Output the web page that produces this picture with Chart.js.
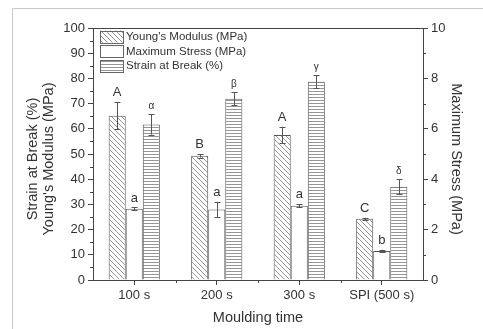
<!DOCTYPE html>
<html><head><meta charset="utf-8">
<script src="https://cdn.jsdelivr.net/npm/chart.js@4.4.1/dist/chart.umd.min.js"></script>
<style>html,body{margin:0;padding:0;background:#fff;}#wrap{width:483px;height:329px;position:relative;}</style>
</head><body><div id="wrap"><canvas id="c" width="483" height="329"></canvas></div>
<script>
const categories = ["100 s", "200 s", "300 s", "SPI (500 s)"];
const youngs = [65.2, 49.3, 57.5, 24.3];
const youngsErr = [5.3, 0.7, 3.3, 0.4];
const youngsLetters = ["A", "B", "A", "C"];
const maxStress = [2.83, 2.8, 2.95, 1.15];
const maxStressErr = [0.05, 0.3, 0.05, 0.05];
const maxStressLetters = ["a", "a", "a", "b"];
const strain = [61.7, 71.9, 78.7, 37.0];
const strainErr = [4.0, 2.6, 2.5, 3.0];
const strainLetters = ["\u03b1", "\u03b2", "\u03b3", "\u03b4"];
const leftTicks = [0,10,20,30,40,50,60,70,80,90,100];
const rightTicks = [0,2,4,6,8,10];

const FONT = "'Liberation Sans', Arial, sans-serif";
const INK = '#444';

function makePattern(kind){
  const s = kind === 'diag' ? 5 : 3;
  const pc = document.createElement('canvas');
  pc.width = s; pc.height = s;
  const p = pc.getContext('2d');
  p.fillStyle = '#fff'; p.fillRect(0,0,s,s);
  p.strokeStyle = '#8a8a8a'; p.lineWidth = 0.9;
  p.beginPath();
  if (kind === 'diag') {
    p.moveTo(0,0); p.lineTo(s,s);
    p.moveTo(-s,0); p.lineTo(0,s);
    p.moveTo(s,0); p.lineTo(2*s,s);
    p.moveTo(0,-s); p.lineTo(s*2, s);
  } else {
    p.moveTo(0,1.5); p.lineTo(s,1.5);
  }
  p.stroke();
  return document.getElementById('c').getContext('2d').createPattern(pc,'repeat');
}
const diagPat = makePattern('diag');
const horPat = makePattern('hor');

const errs = [youngsErr, maxStressErr, strainErr];
const letters = [youngsLetters, maxStressLetters, strainLetters];

const decor = {
  id:'decor',
  beforeDraw(chart){
    const c = chart.ctx;
    c.save();
    c.strokeStyle = '#c8c8c8'; c.lineWidth = 1;
    c.beginPath(); c.moveTo(12.5, 329); c.lineTo(12.5, 8.5); c.lineTo(483, 8.5); c.stroke();
    c.restore();
  },
  afterDraw(chart){
    const c = chart.ctx, a = chart.chartArea;
    const y = chart.scales.y, y2 = chart.scales.y2, x = chart.scales.x;
    c.save();
    c.strokeStyle = INK; c.lineWidth = 1;
    c.beginPath(); c.moveTo(a.left, Math.round(a.top)+0.5); c.lineTo(a.right, Math.round(a.top)+0.5); c.stroke();
    c.beginPath();
    for (let v = 5; v < 100; v += 10) {
      const py = Math.round(y.getPixelForValue(v)) + 0.5;
      c.moveTo(a.left, py); c.lineTo(a.left - 3, py);
    }
    for (let v = 1; v < 10; v += 2) {
      const py = Math.round(y2.getPixelForValue(v)) + 0.5;
      c.moveTo(a.right, py); c.lineTo(a.right + 3, py);
    }
    for (let i = 0; i < categories.length - 1; i++) {
      const px = Math.round((x.getPixelForValue(i) + x.getPixelForValue(i+1)) / 2) + 0.5;
      c.moveTo(px, a.bottom); c.lineTo(px, a.bottom + 3);
    }
    c.stroke();
    chart.data.datasets.forEach((ds, di) => {
      const meta = chart.getDatasetMeta(di);
      const sc = chart.scales[ds.yAxisID];
      meta.data.forEach((bar, i) => {
        const v = ds.data[i], e = errs[di][i];
        const yt = sc.getPixelForValue(v + e), yb = sc.getPixelForValue(v - e);
        const bx = Math.round(bar.x) + 0.5;
        c.strokeStyle = '#555'; c.lineWidth = 1;
        c.beginPath();
        c.moveTo(bx, yt); c.lineTo(bx, yb);
        c.moveTo(bx - 3, Math.round(yt)+0.5); c.lineTo(bx + 3, Math.round(yt)+0.5);
        c.moveTo(bx - 3, Math.round(yb)+0.5); c.lineTo(bx + 3, Math.round(yb)+0.5);
        c.stroke();
        c.fillStyle = '#333';
        const isGreek = di === 2;
        c.font = (isGreek ? '10px ' : '13px ') + FONT;
        c.textAlign = 'center'; c.textBaseline = 'bottom';
        c.fillText(letters[di][i], bar.x, yt - 3);
      });
    });
    c.fillStyle = '#333';
    c.font = '14.5px ' + FONT;
    c.textAlign = 'center'; c.textBaseline = 'middle';
    const cy = (a.top + a.bottom) / 2 + 5;
    c.save(); c.translate(33, cy); c.rotate(-Math.PI/2); c.fillText('Strain at Break (%)', 0, 0); c.restore();
    c.save(); c.translate(49, cy); c.rotate(-Math.PI/2); c.fillText("Young's Modulus (MPa)", 0, 0); c.restore();
    c.save(); c.translate(456, cy); c.rotate(Math.PI/2); c.fillText('Maximum Stress (MPa)', 0, 0); c.restore();
    c.fillText('Moulding time', (a.left + a.right)/2, 318);
    const items = [["Young's Modulus (MPa)", diagPat], ["Maximum Stress (MPa)", '#fff'], ["Strain at Break (%)", horPat]];
    c.font = '11.5px ' + FONT; c.textAlign = 'left'; c.textBaseline = 'middle';
    items.forEach((it, k) => {
      const ty = 30.5 + k * 14.5;
      c.fillStyle = it[1]; c.fillRect(100, ty, 23, 12);
      c.strokeStyle = '#666'; c.strokeRect(100.5, Math.round(ty)+0.5, 23, 12);
      c.fillStyle = '#333'; c.fillText(it[0], 126, ty + 6.5);
    });
    c.restore();
  }
};

new Chart(document.getElementById('c'), {
  type: 'bar',
  data: {
    labels: categories,
    datasets: [
      { label: "Young's Modulus (MPa)", data: youngs, yAxisID: 'y', backgroundColor: diagPat, borderColor: '#555', borderWidth: 1 },
      { label: "Maximum Stress (MPa)", data: maxStress, yAxisID: 'y2', backgroundColor: '#fff', borderColor: '#555', borderWidth: 1 },
      { label: "Strain at Break (%)", data: strain, yAxisID: 'y', backgroundColor: horPat, borderColor: '#555', borderWidth: 1 }
    ]
  },
  options: {
    responsive: false, animation: false,
    layout: { padding: { top: 28, left: 0, right: 0, bottom: 0 } },
    categoryPercentage: 0.62, barPercentage: 1.0,
    plugins: { legend: { display: false }, tooltip: { enabled: false } },
    scales: {
      x: {
        grid: { drawOnChartArea: false, offset: false, tickLength: 5, color: INK },
        border: { color: INK },
        ticks: { color: '#333', font: { family: FONT, size: 13 }, padding: 3 },
        afterFit(s){ s.height = 49; }
      },
      y: {
        position: 'left', min: 0, max: 100,
        afterBuildTicks(s){ s.ticks = leftTicks.map(v => ({ value: v })); },
        grid: { drawOnChartArea: false, tickLength: 5, color: INK },
        border: { color: INK },
        ticks: { color: '#333', font: { family: FONT, size: 13 }, padding: 3 },
        afterFit(s){ s.width = 93; }
      },
      y2: {
        position: 'right', min: 0, max: 10,
        afterBuildTicks(s){ s.ticks = rightTicks.map(v => ({ value: v })); },
        grid: { drawOnChartArea: false, tickLength: 5, color: INK },
        border: { color: INK },
        ticks: { color: '#333', font: { family: FONT, size: 13 }, padding: 3 },
        afterFit(s){ s.width = 60; }
      }
    }
  },
  plugins: [decor]
});
</script></body></html>
